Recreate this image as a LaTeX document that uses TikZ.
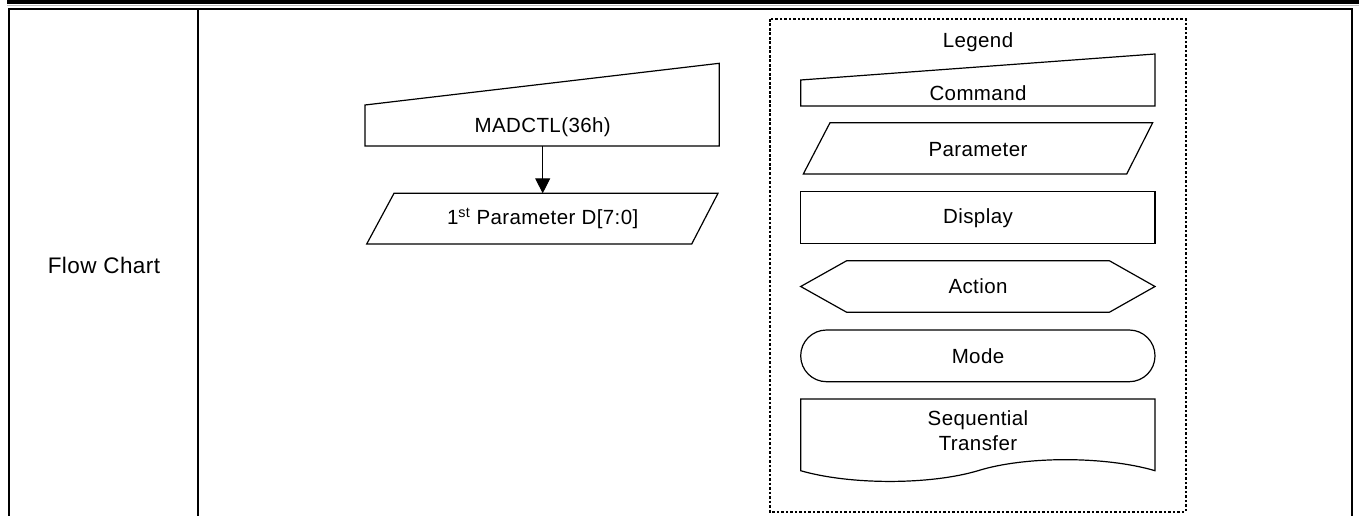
\documentclass[tikz,border=0pt]{standalone}
\usepackage{fontspec}
\setmainfont[LetterSpace=2]{Liberation Sans}
\usetikzlibrary{arrows.meta}
\tikzset{
  shp/.style={draw=black, line width=1.2pt, line join=miter},
  tbl/.style={draw=black, line width=2pt},
  lbl/.style={font=\fontsize{20.5}{24}\selectfont, inner sep=0pt, align=center},
  dotbox/.style={draw=black, line width=1.7pt, dash pattern=on 2.6pt off 1.9pt},
  flow/.style={draw=black, line width=1pt, -{Triangle[width=15pt,length=15pt]}}
}
\begin{document}
\begin{tikzpicture}[x=1pt,y=-1pt]
\useasboundingbox (0,0) rectangle (1359,516);
% top bar
\fill[black] (7,0) rectangle (1359,4);
\draw[gray!50, line width=1pt] (7,5.5) -- (1359,5.5);
% table
\draw[tbl] (8.5,516) -- (8.5,9.3) -- (1351.5,9.3) -- (1351.5,516);
\draw[tbl] (198,9.3) -- (198,516);
\node[font=\fontsize{22.5}{26}\selectfont, inner sep=0pt] (fc) at (104,265) {Flow Chart};
% flow chart
\draw[shp] (365,105) -- (719.3,63.3) -- (719.3,146) -- (365,146) -- cycle;
\node[lbl] (madctl) at (542.7,127) {MADCTL(36h)};
\draw[shp] (394,193.3) -- (718,193.3) -- (691.7,244) -- (366.7,244) -- cycle;
\node[lbl] (par1) at (542.7,218.5) {1\textsuperscript{st} Parameter D[7:0]};
\coordinate (cmdbot) at (542.7,146);
\coordinate (partop) at (542.7,193.3);
\draw[flow] (cmdbot) -- (partop);
% legend
\draw[dotbox] (770,19) rectangle (1185.7,511.7);
\node[lbl] (legend) at (978,42) {Legend};
\draw[shp] (800.7,80) -- (1155,54) -- (1155,106) -- (800.7,106) -- cycle;
\node[lbl] (command) at (978,92.7) {Command};
\draw[shp] (830,122.7) -- (1152.7,122.7) -- (1126.7,174) -- (803.3,174) -- cycle;
\node[lbl] (parameter) at (978,149.5) {Parameter};
\draw[shp] (800.7,191.7) rectangle (1155,243.3);
\node[lbl] (display) at (978,218.5) {Display};
\draw[shp] (800.7,286.5) -- (846.7,260.7) -- (1109.3,260.7) -- (1155,286.5) -- (1109.3,312.3) -- (846.7,312.3) -- cycle;
\node[lbl] (action) at (978,286.5) {Action};
\draw[shp, rounded corners=25.8pt] (800.7,330) rectangle (1155,381.7);
\node[lbl] (mode) at (978,356) {Mode};
\draw[shp] (800.7,470.7) -- (800.7,399) -- (1155,399) -- (1155,470.7)
  .. controls (1105,456) and (1025,456) .. (978,470.7)
  .. controls (930,485) and (850,485) .. (800.7,470.7) -- cycle;
\node[lbl, font=\fontsize{20.5}{24.5}\selectfont] (seq) at (978,430.5) {Sequential\\Transfer};
\end{tikzpicture}
\end{document}
